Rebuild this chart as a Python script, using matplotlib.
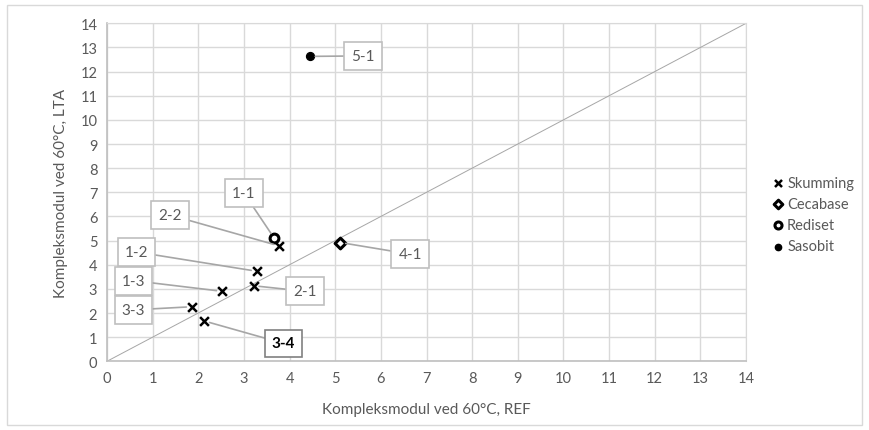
import matplotlib
matplotlib.use("Agg")
import matplotlib.pyplot as plt
from matplotlib.patches import Rectangle

plt.rcParams['font.family'] = ['Lato', 'DejaVu Sans']

# Data
skum_x = [3.77, 3.28, 3.21, 2.52, 1.86, 2.13]
skum_y = [4.78, 3.73, 3.13, 2.90, 2.26, 1.67]
skum_lab = ["2-2", "1-2", "2-1", "1-3", "3-3", "3-4"]
skum_lab_x = [1.38, 0.64, 4.34, 0.58, 0.58, 3.87]
skum_lab_y = [6.06, 4.53, 2.90, 3.34, 2.13, 0.74]

ceca_x = [5.11]
ceca_y = [4.92]
ceca_lab = ["4-1"]
ceca_lab_x = [6.64]
ceca_lab_y = [4.44]

redi_x = [3.66]
redi_y = [5.11]
redi_lab = ["1-1"]
redi_lab_x = [3.00]
redi_lab_y = [6.97]

saso_x = [4.44]
saso_y = [12.63]
saso_lab = ["5-1"]
saso_lab_x = [5.61]
saso_lab_y = [12.65]

ticks = list(range(0, 15))

fig = plt.figure(figsize=(8.69, 4.31), dpi=100)
fig.patches.append(Rectangle((0.008, 0.012), 0.984, 0.975, transform=fig.transFigure,
                             fill=False, edgecolor='#d9d9d9', linewidth=1))
ax = fig.add_axes([0.1231, 0.1594, 0.7354, 0.7842])
ax.set_xlim(0, 14)
ax.set_ylim(0, 14)
ax.set_xticks(ticks)
ax.set_yticks(ticks)
ax.grid(True, color='#d9d9d9', linewidth=1)
ax.set_axisbelow(True)
for s in ['top', 'right']:
    ax.spines[s].set_color('#d9d9d9')
for s in ['left', 'bottom']:
    ax.spines[s].set_color('#bfbfbf')
    ax.spines[s].set_linewidth(1.2)
ax.tick_params(length=0, labelsize=10.5, labelcolor='#595959', pad=7)

ax.plot([0, 14], [0, 14], color='#a6a6a6', linewidth=0.7, zorder=1)

ax.scatter(skum_x, skum_y, marker='x', s=40, color='black', linewidths=1.8, zorder=3, label='Skumming')
ax.scatter(ceca_x, ceca_y, marker='D', s=30, facecolors='white', edgecolors='black', linewidths=2.2, zorder=3, label='Cecabase')
ax.scatter(redi_x, redi_y, marker='o', s=40, facecolors='white', edgecolors='black', linewidths=2.2, zorder=3, label='Rediset')
ax.scatter(saso_x, saso_y, marker='o', s=32, color='black', zorder=3, label='Sasobit')

def annotate(xs, ys, labs, lx, ly):
    for x, y, t, tx, ty in zip(xs, ys, labs, lx, ly):
        bold = (t == "3-4")
        ax.annotate(t, xy=(x, y), xytext=(tx, ty), textcoords='data',
                    ha='center', va='center', fontsize=11,
                    color='black' if bold else '#595959',
                    fontweight='bold' if bold else 'normal',
                    bbox=dict(boxstyle='square,pad=0.45', facecolor='white',
                              edgecolor='#808080' if bold else '#bfbfbf', linewidth=1.2),
                    arrowprops=dict(arrowstyle='-', color='#a6a6a6', linewidth=1.2,
                                    shrinkA=0, shrinkB=4),
                    zorder=4)

annotate(skum_x, skum_y, skum_lab, skum_lab_x, skum_lab_y)
annotate(ceca_x, ceca_y, ceca_lab, ceca_lab_x, ceca_lab_y)
annotate(redi_x, redi_y, redi_lab, redi_lab_x, redi_lab_y)
annotate(saso_x, saso_y, saso_lab, saso_lab_x, saso_lab_y)

ax.set_xlabel("Kompleksmodul ved 60°C, REF", fontsize=11, color='#595959', labelpad=12)
ax.set_ylabel("Kompleksmodul ved 60°C, LTA", fontsize=11, color='#595959', labelpad=9)

leg = fig.legend(loc='center left', bbox_to_anchor=(0.889, 0.50), frameon=False,
                 fontsize=10.5, handletextpad=0.2, labelspacing=0.5, handlelength=0.8,
                 markerscale=0.8, borderpad=0, borderaxespad=0)
for t in leg.get_texts():
    t.set_color('#595959')

fig.savefig('out.png', dpi=100)
